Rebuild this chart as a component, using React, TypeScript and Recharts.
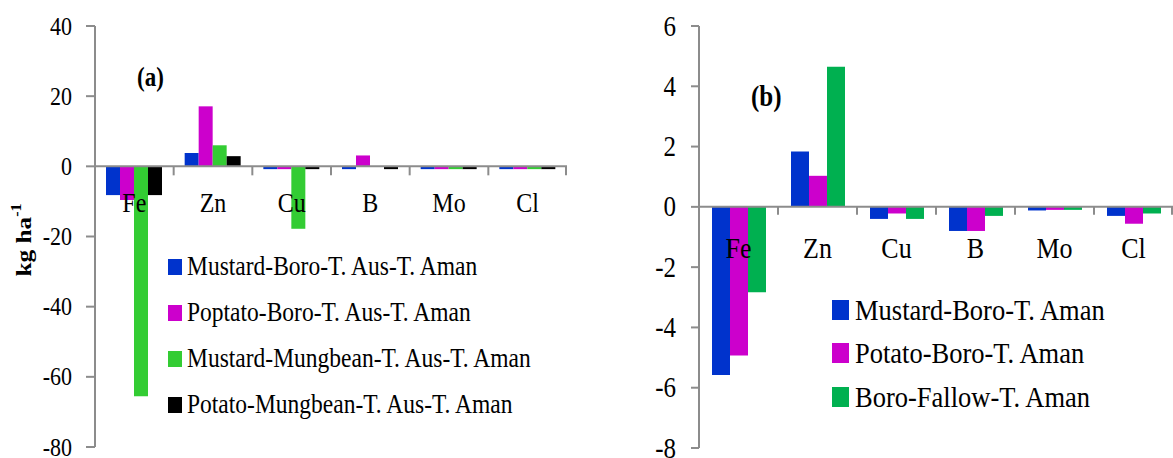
import React from 'react';
import { BarChart, Bar, XAxis, YAxis, ReferenceLine, Legend } from 'recharts';

// nutrient elements on the x axis
const elements = ['Fe', 'Zn', 'Cu', 'B', 'Mo', 'Cl'];

// (a) four cropping patterns, kg/ha
const mustardBoroAusAman = [-8.2, 3.8, -0.8, -0.8, -0.8, -0.8];
const potatoBoroAusAman = [-9.6, 17.1, -0.8, 3.1, -0.8, -0.8];
const mustardMungbeanAusAman = [-65.5, 6.0, -17.8, 0, -0.8, -0.8];
const potatoMungbeanAusAman = [-8.2, 2.9, -0.8, -0.8, -0.8, -0.8];
const namesA = [
  'Mustard-Boro-T. Aus-T. Aman',
  'Poptato-Boro-T. Aus-T. Aman',
  'Mustard-Mungbean-T. Aus-T. Aman',
  'Potato-Mungbean-T. Aus-T. Aman',
];
const ticksA = [-80, -60, -40, -20, 0, 20, 40];

// (b) three cropping patterns, kg/ha
const mustardBoroAman = [-5.58, 1.84, -0.4, -0.8, -0.12, -0.3];
const potatoBoroAman = [-4.93, 1.03, -0.22, -0.8, -0.1, -0.56];
const boroFallowAman = [-2.83, 4.65, -0.4, -0.3, -0.1, -0.22];
const namesB = ['Mustard-Boro-T. Aman', 'Potato-Boro-T. Aman', 'Boro-Fallow-T. Aman'];
const ticksB = [-8, -6, -4, -2, 0, 2, 4, 6];

const coloursA = ['#0033cc', '#cc00cc', '#33cc33', '#000000'];
const coloursB = ['#0033cc', '#cc00cc', '#00b050'];

const SERIF = '"Liberation Serif", "Times New Roman", serif';
const AXIS = '#8c8c8c';
const STRETCH = 1.15; // the figure is a bit taller than wide

const dataA = elements.map((el, i) => ({
  el,
  s0: mustardBoroAusAman[i],
  s1: potatoBoroAusAman[i],
  s2: mustardMungbeanAusAman[i],
  s3: potatoMungbeanAusAman[i],
}));

const dataB = elements.map((el, i) => ({
  el,
  s0: mustardBoroAman[i],
  s1: potatoBoroAman[i],
  s2: boroFallowAman[i],
}));

const makeValTick = (fontSize: number) => (props: any) => {
  const { x, y, payload } = props;
  return (
    <text
      transform={`translate(${x},${y}) scale(1,${STRETCH})`}
      textAnchor="end"
      dominantBaseline="central"
      fontSize={fontSize}
      fontFamily={SERIF}
      fill="#000"
    >
      {payload.value}
    </text>
  );
};

// category labels sit under the zero line, tick marks between categories
const makeCatTick =
  (zeroY: number, band: number, fontSize: number, dy: number, tickLen: number) => (props: any) => {
    const { x, index, payload } = props;
    return (
      <g>
        <line x1={x - band / 2} x2={x - band / 2} y1={zeroY} y2={zeroY + tickLen} stroke={AXIS} strokeWidth={2} />
        {index === elements.length - 1 && (
          <line x1={x + band / 2 - 1} x2={x + band / 2 - 1} y1={zeroY} y2={zeroY + tickLen} stroke={AXIS} strokeWidth={2} />
        )}
        <text
          transform={`translate(${x},${zeroY + dy}) scale(1,${STRETCH})`}
          textAnchor="middle"
          dominantBaseline="central"
          fontSize={fontSize}
          fontFamily={SERIF}
          fill="#000"
        >
          {payload.value}
        </text>
      </g>
    );
  };

// legend keeps the series order (recharts 3 sorts by name otherwise)
const makeLegend = (order: string[], sq: number, gap: number, fontSize: number, rowH: number) => (props: any) => {
  const items = [...(props.payload || [])].sort((a: any, b: any) => order.indexOf(a.value) - order.indexOf(b.value));
  return (
    <div>
      {items.map((p: any) => (
        <div key={p.value} style={{ display: 'flex', alignItems: 'center', height: rowH }}>
          <span style={{ display: 'inline-block', width: sq, height: sq * STRETCH, background: p.color, marginRight: gap }} />
          <span
            style={{
              display: 'inline-block',
              fontSize,
              fontFamily: SERIF,
              color: '#000',
              whiteSpace: 'nowrap',
              lineHeight: 1,
              transform: `scaleY(${STRETCH})`,
            }}
          >
            {p.value}
          </span>
        </div>
      ))}
    </div>
  );
};

const UnitLabel = () => (
  <text
    transform={`translate(24,240) scale(1,${STRETCH}) rotate(-90)`}
    textAnchor="middle"
    dominantBaseline="central"
    fontSize={22}
    fontWeight="bold"
    fontFamily={SERIF}
    fill="#000"
  >
    kg ha
    <tspan dy={-8} fontSize={14}>
      -1
    </tspan>
  </text>
);

// plot geometry
const TOP = 26;
const A_W = 580;
const A_AXIS = 95;
const A_RIGHT = 13;
const A_BOTTOM = 10;
const A_PLOT_H = 458 - TOP - A_BOTTOM - 1;
const A_BAND = (A_W - A_AXIS - A_RIGHT) / elements.length;
const A_ZERO = TOP + (A_PLOT_H * ticksA[ticksA.length - 1]) / (ticksA[ticksA.length - 1] - ticksA[0]);

const B_W = 573;
const B_AXIS = 99;
const B_BOTTOM = 9;
const B_PLOT_H = 458 - TOP - B_BOTTOM - 1;
const B_BAND = (B_W - B_AXIS) / elements.length;
const B_ZERO = TOP + (B_PLOT_H * ticksB[ticksB.length - 1]) / (ticksB[ticksB.length - 1] - ticksB[0]);

const panelTag = (left: number, top: number, size: number): React.CSSProperties => ({
  position: 'absolute',
  left,
  top,
  fontSize: size,
  fontWeight: 'bold',
  fontFamily: SERIF,
  lineHeight: 1,
  transform: `scaleY(${STRETCH})`,
});

export default function App() {
  return (
    <div style={{ position: 'absolute', left: 0, top: 0, width: 1173, height: 458, background: '#fff' }}>
      <div style={{ position: 'absolute', left: 0, top: 0 }}>
        <BarChart
          width={A_W}
          height={458}
          data={dataA}
          margin={{ top: TOP, right: A_RIGHT, bottom: A_BOTTOM, left: 0 }}
          barGap={0}
        >
          <XAxis
            dataKey="el"
            height={1}
            axisLine={false}
            tickLine={false}
            interval={0}
            tick={makeCatTick(A_ZERO, A_BAND, 24, 37, 9)}
          />
          <YAxis
            width={A_AXIS}
            type="number"
            domain={[ticksA[0], ticksA[ticksA.length - 1]]}
            ticks={ticksA}
            interval={0}
            axisLine={{ stroke: AXIS, strokeWidth: 2 }}
            tickLine={{ stroke: AXIS, strokeWidth: 2 }}
            tickSize={9}
            tickMargin={14}
            tick={makeValTick(22)}
            label={<UnitLabel />}
          />
          {namesA.map((name, i) => (
            <Bar key={name} dataKey={`s${i}`} name={name} fill={coloursA[i]} barSize={14} isAnimationActive={false} />
          ))}
          <ReferenceLine y={0} stroke={AXIS} strokeWidth={2} />
          <Legend
            layout="vertical"
            align="center"
            verticalAlign="middle"
            wrapperStyle={{ left: 168, top: 244, width: 'auto' }}
            content={makeLegend(namesA, 14, 5, 23.5, 46)}
          />
        </BarChart>
        <div style={panelTag(137, 66, 23)}>(a)</div>
      </div>

      <div style={{ position: 'absolute', left: 600, top: 0 }}>
        <BarChart
          width={B_W}
          height={458}
          data={dataB}
          margin={{ top: TOP, right: 0, bottom: B_BOTTOM, left: 0 }}
          barGap={0}
        >
          <XAxis
            dataKey="el"
            height={1}
            axisLine={false}
            tickLine={false}
            interval={0}
            tick={makeCatTick(B_ZERO, B_BAND, 26, 41, 8)}
          />
          <YAxis
            width={B_AXIS}
            type="number"
            domain={[ticksB[0], ticksB[ticksB.length - 1]]}
            ticks={ticksB}
            interval={0}
            axisLine={{ stroke: AXIS, strokeWidth: 2 }}
            tickLine={{ stroke: AXIS, strokeWidth: 2 }}
            tickSize={8}
            tickMargin={15}
            tick={makeValTick(25)}
          />
          {namesB.map((name, i) => (
            <Bar key={name} dataKey={`s${i}`} name={name} fill={coloursB[i]} barSize={18} isAnimationActive={false} />
          ))}
          <ReferenceLine y={0} stroke={AXIS} strokeWidth={2} />
          <Legend
            layout="vertical"
            align="center"
            verticalAlign="middle"
            wrapperStyle={{ left: 232, top: 288, width: 'auto' }}
            content={makeLegend(namesB, 17, 6, 26.5, 43.5)}
          />
        </BarChart>
        <div style={panelTag(151, 84, 25)}>(b)</div>
      </div>
    </div>
  );
}
